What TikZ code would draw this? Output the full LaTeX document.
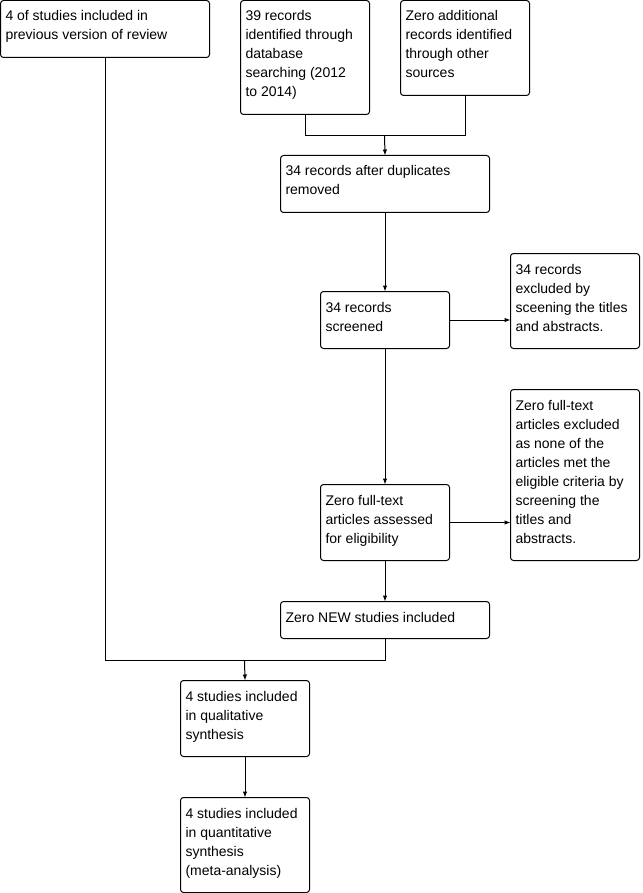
\documentclass[tikz,border=0pt]{standalone}
\usepackage{fontspec}
\setmainfont{Liberation Sans}
\usetikzlibrary{arrows.meta}
\newcommand{\bxt}[3]{\parbox[c][#2pt][t]{\dimexpr#1pt-10pt\relax}{\raggedright\rule{0pt}{20.5pt}#3}}
\tikzset{
  box/.style={draw, line width=1pt, rounded corners=3pt, anchor=north west,
    inner xsep=5pt, inner ysep=0pt, outer sep=0pt, font=\fontsize{14}{19}\selectfont},
  conn/.style={line width=1pt},
  arr/.style={conn, -{Latex[length=6pt,width=4.5pt]}}
}
\begin{document}
\begin{tikzpicture}[x=1pt, y=-1pt]
\useasboundingbox (0,0) rectangle (642,893);
\node[box] (A) at (0.5,0.5) {\bxt{209}{57}{4 of studies included in\\previous version of review}};
\node[box] (B) at (240.5,0.5) {\bxt{129}{114}{39 records\\identified through\\database\\searching (2012\\to 2014)}};
\node[box] (C) at (400.5,0.5) {\bxt{129}{95}{Zero additional\\records identified\\through other\\sources}};
\node[box] (D) at (280.5,155.5) {\bxt{209}{57}{34 records after duplicates\\removed}};
\node[box] (E) at (320.5,291.5) {\bxt{129}{57}{34 records\\screened}};
\node[box] (F) at (510.5,253.5) {\bxt{129}{95}{34 records\\excluded by\\sceening the titles\\and abstracts.}};
\node[box] (G) at (320.5,484.5) {\bxt{129}{76}{Zero full-text\\articles assessed\\for eligibility}};
\node[box] (H) at (510.5,389.5) {\bxt{129}{171}{Zero full-text\\articles excluded\\as none of the\\articles met the\\eligible criteria by\\screening the\\titles and\\abstracts.}};
\node[box] (I) at (280.5,601.5) {\bxt{209}{37}{Zero NEW studies included}};
\node[box] (J) at (180.5,680.5) {\bxt{129}{76}{4 studies included\\in qualitative\\synthesis}};
\node[box] (K) at (180.5,797.5) {\bxt{129}{95}{4 studies included\\in quantitative\\synthesis\\(meta-analysis)}};
\coordinate (m1) at (384.5,135.5);
\coordinate (m2) at (244.5,660.5);
\draw[conn] (B.south) |- (m1) -| (C.south);
\draw[arr] (m1) -- (D.north);
\draw[arr] (D.south) -- (E.north);
\draw[arr] (E.east) -- (E.east -| F.west);
\draw[arr] (E.south) -- (G.north);
\draw[arr] (G.east) -- (G.east -| H.west);
\draw[arr] (G.south) -- (I.north);
\draw[conn] (A.south) |- (m2) -| (I.south);
\draw[arr] (m2) -- (J.north);
\draw[arr] (J.south) -- (K.north);
\end{tikzpicture}
\end{document}
